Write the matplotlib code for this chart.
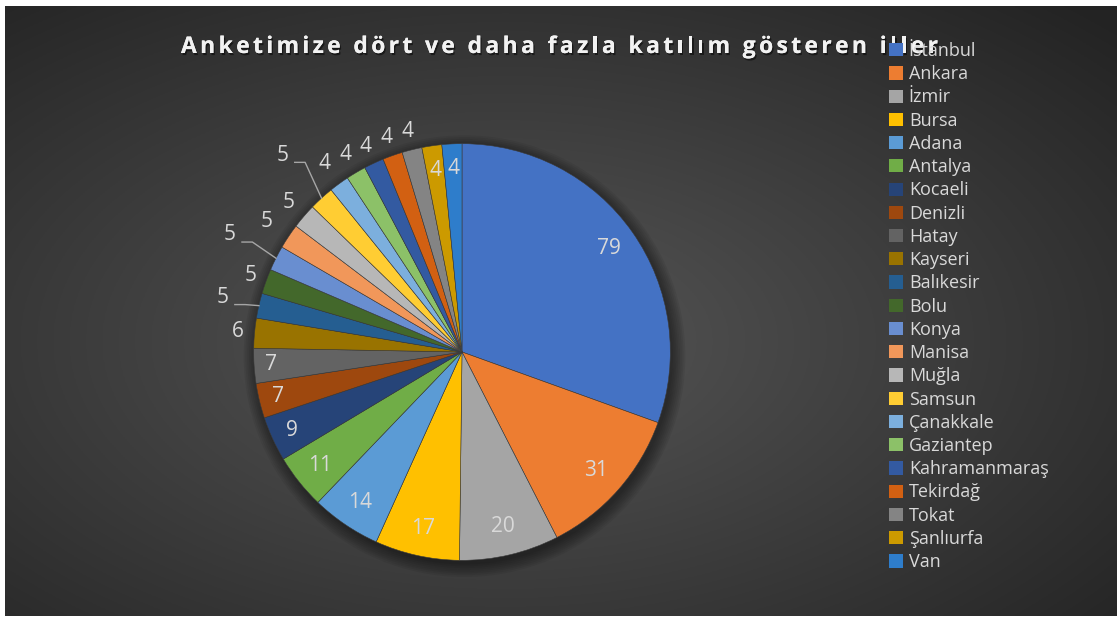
import numpy as np
import matplotlib.pyplot as plt
from matplotlib import patheffects
from matplotlib.patches import Patch, Circle
from matplotlib.font_manager import FontProperties

cities = ['İstanbul', 'Ankara', 'İzmir', 'Bursa', 'Adana', 'Antalya', 'Kocaeli',
          'Denizli', 'Hatay', 'Kayseri', 'Balıkesir', 'Bolu', 'Konya', 'Manisa',
          'Muğla', 'Samsun', 'Çanakkale', 'Gaziantep', 'Kahramanmaraş', 'Tekirdağ',
          'Tokat', 'Şanlıurfa', 'Van']
counts = [79, 31, 20, 17, 14, 11, 9, 7, 7, 6, 5, 5, 5, 5, 5, 5, 4, 4, 4, 4, 4, 4, 4]
colors = ['#4472C4', '#ED7D31', '#A5A5A5', '#FFC000', '#5B9BD5', '#70AD47',
          '#264478', '#9E480E', '#636363', '#997300', '#255E91', '#43682B',
          '#698ED0', '#F1975A', '#B7B7B7', '#FFCD33', '#7CAFDD', '#8CC168',
          '#335AA1', '#D26012', '#848484', '#CC9A00', '#2E7DCB']
title = 'Anketimize dört ve daha fazla katılım gösteren iller'

# label distance from centre (fraction of radius), and which ones get leader lines
label_r = [0.86, 0.86, 0.86, 0.87, 0.87, 0.87, 0.90, 0.91, 0.92, 1.08, 1.18,
           1.08, 1.25, 1.13, 1.10, 1.28, 1.12, 1.10, 1.09, 1.09, 1.09, 0.88, 0.88]
leaders = {10, 12, 15}

W, H = 1117, 622
fig = plt.figure(figsize=(W / 100, H / 100), dpi=100, facecolor='white')
FONT = 'Open Sans'
TXT = '#d9d9d9'

# background with radial gradient
bg = fig.add_axes([5 / W, 6 / H, 1112 / W, 610 / H])
bg.set_axis_off()
yy, xx = np.mgrid[0:1:300j, 0:1:500j]
d = np.sqrt(((xx - 0.45) / 0.75) ** 2 + ((yy - 0.45) / 0.75) ** 2)
v = np.clip(0.34 - 0.2 * d, 0.14, 0.35)
bg.imshow(np.dstack([v, v, v]), aspect='auto', extent=[0, 1, 0, 1], origin='lower')

# pie
cx, cy, R = 462, 622 - 352, 208
ax = fig.add_axes([(cx - 250) / W, (cy - 250) / H, 500 / W, 500 / H])
ax.set_axis_off()

for a in np.linspace(0.06, 0.0, 8):
    ax.add_patch(Circle((0.012, -0.02), 1.0 + a, color='black', alpha=0.06, lw=0))

wedges, _ = ax.pie(counts, colors=colors, startangle=90, counterclock=False,
                   radius=1.0, wedgeprops=dict(edgecolor='#3a3a3a', linewidth=0.4))
ax.set_xlim(-1.2, 1.2)
ax.set_ylim(-1.2, 1.2)
ax.set_aspect('equal')

for i, w in enumerate(wedges):
    ang = np.deg2rad((w.theta1 + w.theta2) / 2)
    r = label_r[i]
    lx, ly = r * np.cos(ang), r * np.sin(ang)
    ax.text(lx, ly, str(counts[i]), ha='center', va='center', fontsize=15,
            color=TXT, family=FONT, clip_on=False)
    if i in leaders:
        ex, ey = np.cos(ang), np.sin(ang)
        hy = ly - 0.035
        ax.plot([lx + 0.06, lx + 0.11, ex], [hy, hy, ey], color='#a6a6a6',
                lw=1.0, clip_on=False)

# legend
handles = [Patch(facecolor=c, edgecolor='none') for c in colors]
leg = fig.legend(handles, cities, loc='upper left', bbox_to_anchor=(889 / W, 1 - 42 / H),
                 frameon=False, prop={'family': FONT, 'size': 13}, labelcolor=TXT,
                 handlelength=0.75, handleheight=0.75, handletextpad=0.35,
                 labelspacing=0.29, borderpad=0, borderaxespad=0)

# title with letter spacing
renderer = fig.canvas.get_renderer()
fp = FontProperties(family=FONT, weight='bold', size=16.5)
def tw(s):
    return renderer.get_text_width_height_descent(s, fp, ismath=False)[0]
space = tw('a a') - tw('aa')
widths = [space if ch == ' ' else tw(ch) for ch in title]
x0, x1 = 181, 938
gap = (x1 - x0 - sum(widths)) / (len(title) - 1)
x = x0
shadow = [patheffects.withSimplePatchShadow(offset=(1, -1.5), shadow_rgbFace='black', alpha=0.5),
          patheffects.Normal()]
for ch, w in zip(title, widths):
    if ch != ' ':
        fig.text(x / W, 1 - 53 / H, ch, fontproperties=fp, color='#f2f2f2',
                 ha='left', va='baseline', path_effects=shadow)
    x += w + gap

fig.savefig('out.png', dpi=100, facecolor=fig.get_facecolor())
